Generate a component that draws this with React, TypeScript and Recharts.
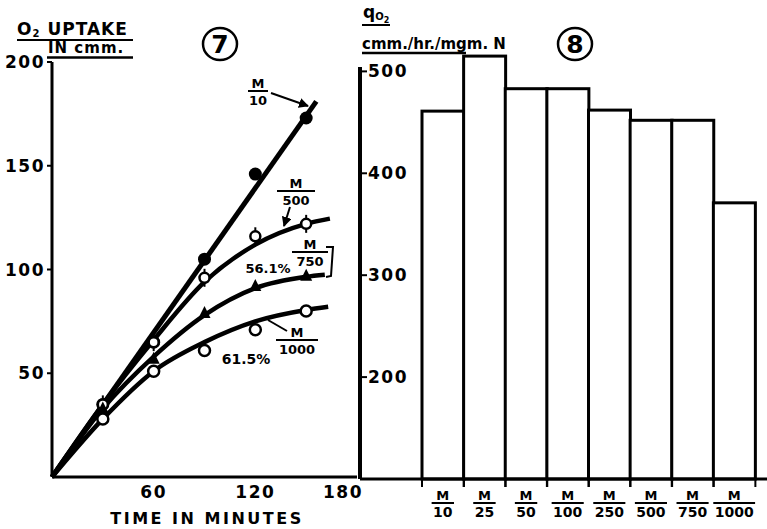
import React from "react";
import { ComposedChart, Line, Scatter, XAxis, YAxis, BarChart, Bar } from "recharts";

const FONT = "'DejaVu Sans', 'Liberation Sans', sans-serif";

// Panel 7: O2 uptake (cmm) against time (minutes)
const TIMES = [30, 60, 90, 120, 150];
const M10_PTS = [35, 65, 105, 146, 173];
const M500_PTS = [35, 65, 96, 116, 122];
const M750_PTS = [33, 57, 79, 92, 97];
const M1000_PTS = [28, 51, 61, 71, 80];

// hand-drawn curves through the points
const M10_CURVE_T = [0, 156];
const M10_CURVE = [0, 181];
const M500_CURVE_T = [0, 30, 60, 90, 120, 150, 164];
const M500_CURVE = [0, 35, 66, 94, 112, 122, 124.5];
const M750_CURVE_T = [0, 30, 60, 90, 120, 150, 161];
const M750_CURVE = [0, 33, 58, 78, 91, 96.5, 97.5];
const M1000_CURVE_T = [0, 30, 60, 90, 120, 150, 163];
const M1000_CURVE = [0, 28, 51, 65, 75, 80.5, 82];

const UPTAKE_TICKS = [50, 100, 150, 200];
const TIME_TICKS = [60, 120, 180];

// Panel 8: qO2 per concentration (M / n)
const DOSE_DEN = ["10", "25", "50", "100", "250", "500", "750", "1000"];
const QO2 = [461, 515, 483, 483, 462, 452, 452, 371];
const QO2_TICKS = [200, 300, 400, 500];

const toPts = (ts: number[], vs: number[]) => ts.map((t, i) => ({ t, v: vs[i] }));

const barData = DOSE_DEN.map((d, i) => ({ den: d, q: QO2[i] }));

const FilledDot = (p: any) => <circle cx={p.cx} cy={p.cy} r={6.5} fill="#000" />;
const TickedCircle = (p: any) => (
  <g>
    <line x1={p.cx} x2={p.cx} y1={p.cy - 9} y2={p.cy + 9} stroke="#000" strokeWidth={2} />
    <circle cx={p.cx} cy={p.cy} r={5} fill="#fff" stroke="#000" strokeWidth={2.5} />
  </g>
);
const Triangle = (p: any) => (
  <polygon
    points={`${p.cx - 6},${p.cy + 5} ${p.cx + 6},${p.cy + 5} ${p.cx},${p.cy - 7}`}
    fill="#000"
  />
);
const OpenCircle = (p: any) => (
  <circle cx={p.cx} cy={p.cy} r={5.5} fill="#fff" stroke="#000" strokeWidth={2.5} />
);

function TimeTick(props: any) {
  const { x, y, payload } = props;
  // the last label ends at the second panel's axis; its "0" doubles as that axis' zero
  const last = payload.value === 180;
  return (
    <text
      x={last ? x + 6 : x}
      y={y + 21}
      textAnchor={last ? "end" : "middle"}
      fontFamily={FONT}
      fontWeight="bold"
      fontSize={17}
      letterSpacing={1.5}
      fill="#000"
    >
      {payload.value}
    </text>
  );
}

function QTick(props: any) {
  const { x, y, payload } = props;
  return (
    <g>
      <line x1={x} x2={x + 7} y1={y} y2={y} stroke="#000" strokeWidth={2} />
      <text x={x + 8} y={y + 6} textAnchor="start" fontFamily={FONT} fontWeight="bold" fontSize={17} letterSpacing={1.5} fill="#000">
        {payload.value}
      </text>
    </g>
  );
}

function FracTick(props: any) {
  const { x, y, payload } = props;
  const den = String(payload.value);
  const w = Math.max(22, den.length * 9.7 + 3);
  return (
    <g fontFamily={FONT} fontWeight="bold" fill="#000">
      <text x={x} y={y + 21} textAnchor="middle" fontSize={13}>
        M
      </text>
      <line x1={x - w / 2} x2={x + w / 2} y1={y + 24} y2={y + 24} stroke="#000" strokeWidth={2} />
      <text x={x} y={y + 38} textAnchor="middle" fontSize={14}>
        {den}
      </text>
    </g>
  );
}

function OpenBar(props: any) {
  const { x, y, width, height } = props;
  const b = y + height;
  return (
    <g>
      <rect x={x} y={y} width={width} height={height} fill="#fff" stroke="#000" strokeWidth={3} />
      <line x1={x} x2={x} y1={b} y2={b + 8} stroke="#000" strokeWidth={2} />
      <line x1={x + width} x2={x + width} y1={b} y2={b + 8} stroke="#000" strokeWidth={2} />
    </g>
  );
}

function Frac({ x, y, den, w }: { x: number; y: number; den: string; w: number }) {
  return (
    <g>
      <text x={x} y={y} textAnchor="middle" fontSize={13}>
        M
      </text>
      <line x1={x - w / 2} x2={x + w / 2} y1={y + 3} y2={y + 3} stroke="#000" strokeWidth={2} />
      <text x={x} y={y + 17} textAnchor="middle" fontSize={13}>
        {den}
      </text>
    </g>
  );
}

function Overlay() {
  return (
    <svg width={767} height={529} style={{ position: "absolute", left: 0, top: 0, pointerEvents: "none" }}>
      <defs>
        <marker id="ah" viewBox="0 0 10 10" refX="9" refY="5" markerWidth="5" markerHeight="5" orient="auto">
          <path d="M0,0 L10,5 L0,10 z" fill="#000" />
        </marker>
      </defs>
      <g fontFamily={FONT} fontWeight="bold" fill="#000">
        {/* panel 7 heading */}
        <text x={17} y={35} fontSize={17} letterSpacing={1}>
          O<tspan fontSize={10} dy={2}>2</tspan>
          <tspan dy={-2} dx={7}>UPTAKE</tspan>
        </text>
        <line x1={17} x2={133} y1={40} y2={40} stroke="#000" strokeWidth={2} />
        <text x={48} y={53} fontSize={15} letterSpacing={1}>
          IN cmm.
        </text>
        <line x1={47} x2={133} y1={57.5} y2={57.5} stroke="#000" strokeWidth={2.5} />
        <ellipse cx={220} cy={44} rx={17} ry={16} fill="none" stroke="#000" strokeWidth={2.5} />
        <text x={220} y={53} textAnchor="middle" fontSize={25}>
          7
        </text>
        <text x={207} y={524} textAnchor="middle" fontSize={16} letterSpacing={2.5}>
          TIME IN MINUTES
        </text>

        {/* panel 7 curve labels */}
        <Frac x={258} y={88} den="10" w={20} />
        <line x1={271} y1={93} x2={308} y2={106} stroke="#000" strokeWidth={2} markerEnd="url(#ah)" />
        <Frac x={296} y={188} den="500" w={38} />
        <line x1={290} y1={207} x2={284} y2={226} stroke="#000" strokeWidth={2} markerEnd="url(#ah)" />
        <Frac x={310} y={249} den="750" w={36} />
        <polyline points="326,247 333,247 331,276 326,277" fill="none" stroke="#000" strokeWidth={2} />
        <text x={268} y={273} textAnchor="middle" fontSize={13}>
          56.1%
        </text>
        <Frac x={297} y={337} den="1000" w={42} />
        <line x1={268} y1={320} x2={287} y2={331} stroke="#000" strokeWidth={2} />
        <text x={246} y={364} textAnchor="middle" fontSize={14}>
          61.5%
        </text>

        {/* panel 8 heading */}
        <text x={363} y={18} fontSize={17}>
          q<tspan fontSize={10} dy={2}>O</tspan>
          <tspan fontSize={8} dy={3}>2</tspan>
        </text>
        <line x1={362} x2={390} y1={25} y2={25} stroke="#000" strokeWidth={2} />
        <text x={362} y={49} fontSize={15}>
          cmm./hr./mgm. N
        </text>
        <line x1={362} x2={466} y1={53} y2={53} stroke="#000" strokeWidth={2.5} />
        <ellipse cx={575} cy={44} rx={17} ry={16} fill="none" stroke="#000" strokeWidth={2.5} />
        <text x={575} y={53} textAnchor="middle" fontSize={25}>
          8
        </text>
      </g>
    </svg>
  );
}

export default function App() {
  return (
    <div style={{ position: "absolute", left: 0, top: 0, width: 767, height: 529, background: "#fff" }}>
      <div style={{ position: "absolute", left: 0, top: 0 }}>
        <ComposedChart width={380} height={529} margin={{ top: 62, right: 23, bottom: 0, left: 0 }}>
          <XAxis
            type="number"
            dataKey="t"
            domain={[0, 180]}
            ticks={TIME_TICKS}
            height={52}
            tickSize={0}
            tickMargin={0}
            tickLine={false}
            axisLine={{ stroke: "#000", strokeWidth: 3 }}
            tick={<TimeTick />}
          />
          <YAxis
            type="number"
            dataKey="v"
            domain={[0, 200]}
            ticks={UPTAKE_TICKS}
            width={52}
            tickSize={5}
            tickMargin={2}
            tickLine={{ stroke: "#000", strokeWidth: 2 }}
            axisLine={{ stroke: "#000", strokeWidth: 3 }}
            tick={{ fill: "#000", fontSize: 17, fontWeight: "bold", fontFamily: FONT, letterSpacing: 1.5 }}
          />
          <Line data={toPts(M10_CURVE_T, M10_CURVE)} dataKey="v" type="linear" stroke="#000" strokeWidth={5} dot={false} isAnimationActive={false} />
          <Line data={toPts(M500_CURVE_T, M500_CURVE)} dataKey="v" type="monotone" stroke="#000" strokeWidth={4.5} dot={false} isAnimationActive={false} />
          <Line data={toPts(M750_CURVE_T, M750_CURVE)} dataKey="v" type="monotone" stroke="#000" strokeWidth={4.5} dot={false} isAnimationActive={false} />
          <Line data={toPts(M1000_CURVE_T, M1000_CURVE)} dataKey="v" type="monotone" stroke="#000" strokeWidth={4.5} dot={false} isAnimationActive={false} />
          <Scatter data={toPts(TIMES, M10_PTS)} dataKey="v" shape={FilledDot} isAnimationActive={false} />
          <Scatter data={toPts(TIMES, M500_PTS)} dataKey="v" shape={TickedCircle} isAnimationActive={false} />
          <Scatter data={toPts(TIMES, M750_PTS)} dataKey="v" shape={Triangle} isAnimationActive={false} />
          <Scatter data={toPts(TIMES, M1000_PTS)} dataKey="v" shape={OpenCircle} isAnimationActive={false} />
        </ComposedChart>
      </div>
      <div style={{ position: "absolute", left: 0, top: 0 }}>
        <BarChart width={767} height={529} data={barData} barCategoryGap={0} margin={{ top: 51, right: 0, bottom: 0, left: 0 }}>
          <XAxis
            dataKey="den"
            height={50}
            padding={{ left: 62, right: 12 }}
            tickSize={0}
            tickMargin={0}
            tickLine={false}
            interval={0}
            axisLine={{ stroke: "#000", strokeWidth: 3 }}
            tick={<FracTick />}
          />
          {/* broken axis: the baseline stands for 100 but carries the shared "0" */}
          <YAxis
            type="number"
            domain={[100, 520]}
            ticks={QO2_TICKS}
            width={360}
            tickSize={0}
            tickMargin={0}
            tickLine={false}
            axisLine={{ stroke: "#000", strokeWidth: 4, strokeDasharray: "0 16 1000" }}
            tick={<QTick />}
          />
          <Bar dataKey="q" shape={<OpenBar />} isAnimationActive={false} />
        </BarChart>
      </div>
      <Overlay />
    </div>
  );
}
